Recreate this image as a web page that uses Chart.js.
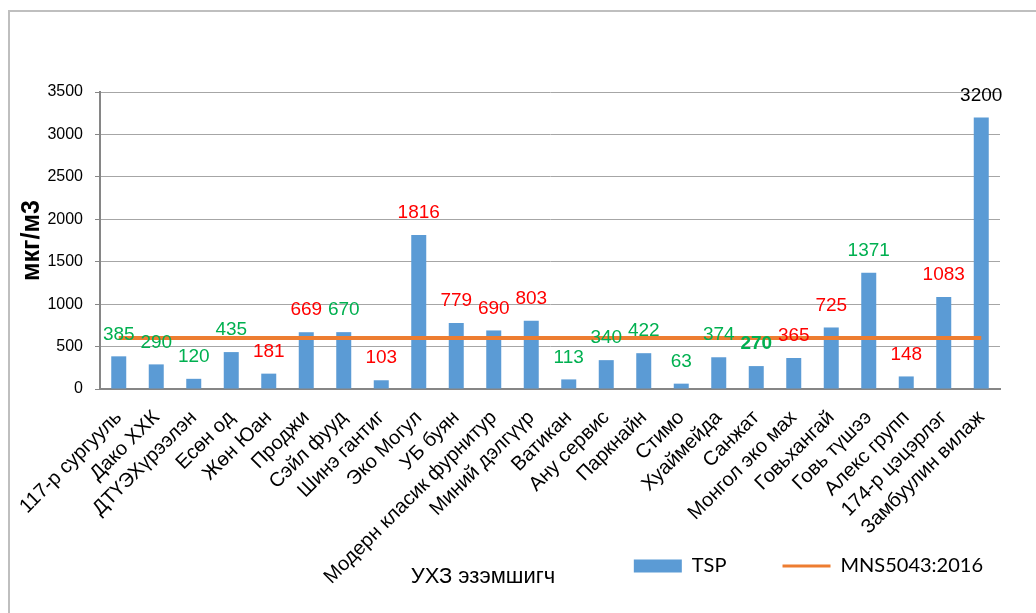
<!DOCTYPE html>
<html>
<head>
<meta charset="utf-8">
<script src="https://cdn.jsdelivr.net/npm/chart.js@4.4.0/dist/chart.umd.min.js"></script>
<style>
  html, body { margin: 0; padding: 0; background: #fff; overflow: hidden; }
  #frame {
    position: absolute; left: 8px; top: 10px; width: 1100px; height: 700px;
    border-top: 2px solid #bfbfbf; border-left: 2px solid #bfbfbf;
  }
  canvas { display: block; }
</style>
</head>
<body>
<div id="frame"><canvas id="chart" width="1026" height="612"></canvas></div>
<script>
// data
const companies = [
  '117-р сургууль', 'Дако ХХК', 'ДТҮЭХүрээлэн', 'Есөн од', 'Жөн Юан', 'Проджи',
  'Сэйл фууд', 'Шинэ гантиг', 'Эко Могул', 'УБ буян', 'Модерн класик фурнитур',
  'Миний дэлгүүр', 'Ватикан', 'Ану сервис', 'Паркнайн', 'Стимо', 'Хуаймейда',
  'Санжат', 'Монгол эко мах', 'Говьхангай', 'Говь түшээ', 'Алекс групп',
  '174-р цэцэрлэг', 'Замбуулин вилаж'
];
const tsp = [385, 290, 120, 435, 181, 669, 670, 103, 1816, 779, 690, 803,
             113, 340, 422, 63, 374, 270, 365, 725, 1371, 148, 1083, 3200];
const standard = [600, 600, 600, 600, 600, 600, 600, 600, 600, 600, 600, 600,
                  600, 600, 600, 600, 600, 600, 600, 600, 600, 600, 600, 600];
const labelColors = ['g', 'g', 'g', 'g', 'r', 'r', 'g', 'r', 'r', 'r', 'r', 'r',
                     'g', 'g', 'g', 'g', 'g', 'g', 'r', 'r', 'g', 'r', 'r', 'k'];
const boldLabels = [17];
const yTicks = [0, 500, 1000, 1500, 2000, 2500, 3000, 3500];
const yAxisTitle = 'мкг/м3';
const xAxisTitle = 'УХЗ эзэмшигч';

const palette = { g: '#00b050', r: '#ff0000', k: '#000000' };
const FONT = '"Liberation Sans", Arial, sans-serif';

// value labels above each bar
const valueLabels = {
  id: 'valueLabels',
  afterDatasetsDraw(chart) {
    const ctx = chart.ctx;
    const meta = chart.getDatasetMeta(0);
    ctx.save();
    ctx.textAlign = 'center';
    ctx.textBaseline = 'middle';
    meta.data.forEach((bar, i) => {
      ctx.font = (boldLabels.includes(i) ? 'bold ' : '') + '19px ' + FONT;
      ctx.fillStyle = palette[labelColors[i]];
      ctx.fillText(String(tsp[i]), bar.x, bar.y - 22);
    });
    ctx.restore();
  }
};

// legend row overlaps the tail of the long rotated labels, like in Excel
const legendShift = {
  id: 'legendShift',
  afterLayout(chart) {
    const l = chart.legend;
    l.top -= 38; l.bottom -= 38;
    l.left -= 7; l.right -= 7;
  }
};

// x axis title sits on the same row as the legend
const xTitle = {
  id: 'xTitle',
  afterDraw(chart) {
    const { ctx, chartArea, legend } = chart;
    ctx.save();
    ctx.font = '22px ' + FONT;
    ctx.fillStyle = '#000';
    ctx.textAlign = 'center';
    ctx.textBaseline = 'middle';
    ctx.fillText(xAxisTitle, chartArea.left + 383, legend.top + 31);
    ctx.restore();
  }
};

new Chart(document.getElementById('chart'), {
  type: 'bar',
  data: {
    labels: companies,
    datasets: [
      {
        label: 'TSP',
        data: tsp,
        backgroundColor: '#5b9bd5',
        barPercentage: 0.4,
        categoryPercentage: 1.0,
        order: 0
      },
      {
        type: 'line',
        label: 'MNS5043:2016',
        data: standard,
        borderColor: '#ed7d31',
        backgroundColor: '#ed7d31',
        borderWidth: 4,
        pointRadius: 0,
        pointStyle: 'line',
        order: -1
      }
    ]
  },
  options: {
    responsive: false,
    animation: false,
    layout: { padding: { top: 80, right: 36, bottom: 0, left: 0 } },
    plugins: {
      tooltip: { enabled: false },
      legend: {
        position: 'bottom',
        align: 'end',
        labels: {
          usePointStyle: true,
          pointStyleWidth: 48,
          boxHeight: 13,
          padding: 10,
          color: '#000',
          font: { family: 'Lato', size: 20 },
          generateLabels(chart) {
            const items = Chart.defaults.plugins.legend.labels.generateLabels(chart);
            items.sort((a, b) => a.datasetIndex - b.datasetIndex);
            items[0].pointStyle = 'rect';
            items[0].text = 'TSP' + ' '.repeat(9);
            items[1].pointStyle = 'line';
            items[1].lineWidth = 3;
            return items;
          }
        }
      }
    },
    scales: {
      x: {
        grid: { display: false },
        border: { color: '#868686', width: 2 },
        ticks: {
          autoSkip: false,
          minRotation: 45,
          maxRotation: 45,
          padding: 9,
          color: '#000',
          font: { family: FONT, size: 20 }
        },
        afterFit(scale) { scale.height = 195; }
      },
      y: {
        min: 0,
        max: 3500,
        afterBuildTicks(scale) { scale.ticks = yTicks.map(v => ({ value: v })); },
        grid: { color: '#a6a6a6', tickLength: 5, tickColor: '#868686' },
        border: { color: '#868686', width: 2 },
        ticks: {
          padding: 12,
          color: '#000',
          font: { family: FONT, size: 16 },
          callback: v => String(v)
        },
        title: {
          display: true,
          text: yAxisTitle,
          color: '#000',
          padding: { top: 7, bottom: 2 },
          font: { family: FONT, size: 25, weight: 'bold' }
        },
        afterFit(scale) { scale.width = 90; }
      }
    }
  },
  plugins: [valueLabels, legendShift, xTitle]
});
</script>
</body>
</html>
